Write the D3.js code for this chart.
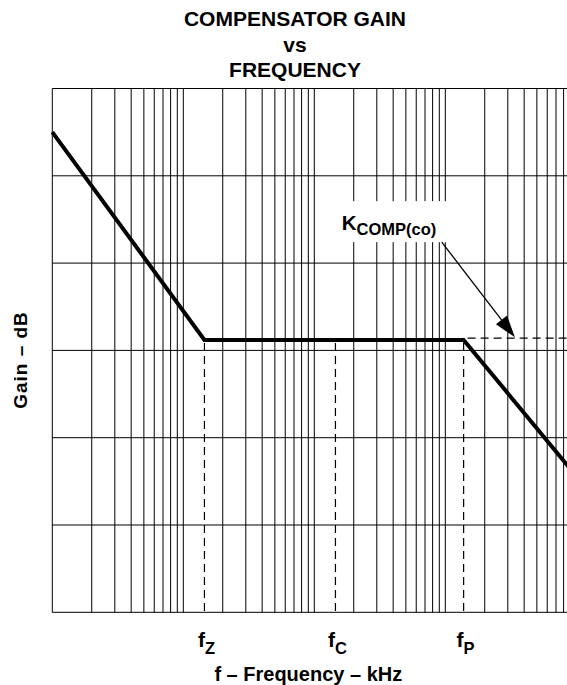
<!DOCTYPE html>
<html>
<head>
<meta charset="utf-8">
<script src="https://cdn.jsdelivr.net/npm/d3@7"></script>
<style>
  body { margin: 0; background: #fff; }
  svg { display: block; }
  text { font-family: "Liberation Sans", Arial, Helvetica, sans-serif; font-weight: bold; fill: #000; }
</style>
</head>
<body>
<div class="gainChart"></div>
<script>
// asymptotic gain curve (kHz, dB)
var curveFreq = [1, 14.5, 1380, 10000];
var curveGain = [55.0, 31.2, 31.2, 15.6];

// corner frequencies marked under the plot
var markFreq = [14.5, 145, 1380];
var markNames = ["Z", "C", "P"];

// K_COMP(co) level extended to the right of fP
var kcompGain = 31.4;
var arrowFrom = [940, 42.4];
var arrowTo = [3400, 31.5];

var gainTicks = [0, 10, 20, 30, 40, 50, 60];
var decades = [1, 10, 100, 1000];

function init() {
  var w = 567;
  var h = 685;

  var xScale = d3.scaleLog()
    .domain([1, 10000])
    .range([52.3, 576.3]);

  var yScale = d3.scaleLinear()
    .domain([0, 60])
    .range([612.3, 88.5]);

  var svg = d3.select(".gainChart")
    .append("svg")
    .attr("width", w)
    .attr("height", h);

  // log grid: 1..9 in every decade
  var gridFreq = [];
  decades.forEach(function(d) {
    for (var k = 1; k < 10; k++) gridFreq.push(d * k);
  });
  gridFreq.push(10000);

  svg.append("g")
    .selectAll("line")
    .data(gridFreq)
    .enter()
    .append("line")
    .attr("x1", function(d) { return xScale(d); })
    .attr("x2", function(d) { return xScale(d); })
    .attr("y1", yScale(0))
    .attr("y2", yScale(60))
    .attr("stroke", "#000")
    .attr("stroke-width", 1);

  svg.append("g")
    .selectAll("line")
    .data(gainTicks)
    .enter()
    .append("line")
    .attr("x1", xScale(1))
    .attr("x2", xScale(10000))
    .attr("y1", function(d) { return yScale(d); })
    .attr("y2", function(d) { return yScale(d); })
    .attr("stroke", "#000")
    .attr("stroke-width", 1);

  // dashed drops from the curve to the bottom
  svg.append("g")
    .selectAll("line")
    .data(markFreq)
    .enter()
    .append("line")
    .attr("x1", function(d) { return xScale(d); })
    .attr("x2", function(d) { return xScale(d); })
    .attr("y1", yScale(curveGain[1]) + 3)
    .attr("y2", yScale(0))
    .attr("stroke", "#000")
    .attr("stroke-width", 1.2)
    .attr("stroke-dasharray", "8,5");

  svg.append("line")
    .attr("x1", xScale(markFreq[2]) + 4)
    .attr("x2", xScale(10000))
    .attr("y1", yScale(kcompGain))
    .attr("y2", yScale(kcompGain))
    .attr("stroke", "#000")
    .attr("stroke-width", 1.2)
    .attr("stroke-dasharray", "8,5");

  // gain curve
  var pts = curveFreq.map(function(f, i) { return [f, curveGain[i]]; });
  var line = d3.line()
    .x(function(d) { return xScale(d[0]); })
    .y(function(d) { return yScale(d[1]); });

  svg.append("path")
    .datum(pts)
    .attr("d", line)
    .attr("fill", "none")
    .attr("stroke", "#000")
    .attr("stroke-width", 4)
    .attr("stroke-linejoin", "miter");

  // K_COMP(co) label with white backing
  var lab = svg.append("g");
  var bg = lab.append("rect").attr("fill", "#fff");
  var kt = lab.append("text")
    .attr("x", xScale(arrowFrom[0]) - 100)
    .attr("y", yScale(arrowFrom[1]) - 12)
    .attr("font-size", "20.5px");
  kt.append("tspan").text("K");
  kt.append("tspan").attr("dy", 5).attr("font-size", "16.5px").text("COMP(co)");
  var bb = kt.node().getBBox();
  bg.attr("x", bb.x - 12)
    .attr("y", bb.y - 10)
    .attr("width", bb.width + 24)
    .attr("height", yScale(arrowFrom[1]) - bb.y + 10);

  // arrow
  var ax1 = xScale(arrowFrom[0]), ay1 = yScale(arrowFrom[1]);
  var ax2 = xScale(arrowTo[0]), ay2 = yScale(arrowTo[1]);
  var ang = Math.atan2(ay2 - ay1, ax2 - ax1);
  var hl = 22, hw = 7;
  var bx = ax2 - hl * Math.cos(ang), by = ay2 - hl * Math.sin(ang);
  svg.append("line")
    .attr("x1", ax1).attr("y1", ay1)
    .attr("x2", bx).attr("y2", by)
    .attr("stroke", "#000")
    .attr("stroke-width", 1.3);
  svg.append("path")
    .attr("d", "M" + ax2 + "," + ay2 +
      "L" + (bx - hw * Math.sin(ang)) + "," + (by + hw * Math.cos(ang)) +
      "L" + (bx + hw * Math.sin(ang)) + "," + (by - hw * Math.cos(ang)) + "Z")
    .attr("fill", "#000");

  // corner frequency labels
  markFreq.forEach(function(f, i) {
    var t = svg.append("text")
      .attr("x", xScale(f) + 2)
      .attr("y", 646.7)
      .attr("text-anchor", "middle")
      .attr("font-size", "21px");
    t.append("tspan").text("f");
    t.append("tspan").attr("dy", 7).attr("font-size", "16.5px").text(markNames[i]);
  });

  // titles
  var titles = ["COMPENSATOR GAIN", "vs", "FREQUENCY"];
  svg.selectAll(".title")
    .data(titles)
    .enter()
    .append("text")
    .attr("class", "title")
    .attr("x", 295)
    .attr("y", function(d, i) { return 26 + i * 25.7; })
    .attr("text-anchor", "middle")
    .attr("font-size", "21px")
    .text(function(d) { return d; });

  svg.append("text")
    .attr("x", 308.3)
    .attr("y", 680.7)
    .attr("text-anchor", "middle")
    .attr("font-size", "20px")
    .text("f \u2013 Frequency \u2013 kHz");

  svg.append("text")
    .attr("transform", "translate(26.7,360) rotate(-90)")
    .attr("text-anchor", "middle")
    .attr("font-size", "19px")
    .attr("letter-spacing", "1px")
    .text("Gain \u2013 dB");
}

window.onload = init;
</script>
</body>
</html>
